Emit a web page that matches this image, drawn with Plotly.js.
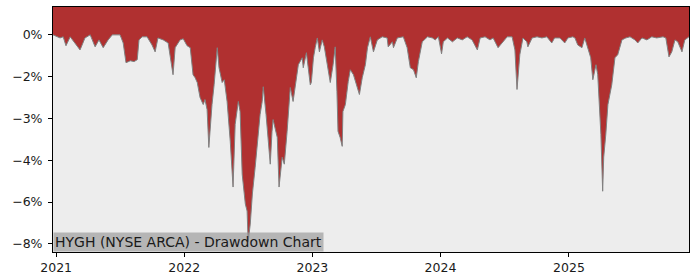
<!DOCTYPE html>
<html>
<head>
<meta charset="utf-8">
<script src="https://cdn.plot.ly/plotly-3.0.1.min.js"></script>
<style>
  html, body { margin: 0; padding: 0; background: #ffffff; }
  #chart { width: 700px; height: 280px; }
</style>
</head>
<body>
<div id="chart"></div>
<script>
// Drawdown of HYGH (percent)
const dates = [
  '2020-12-23','2021-01-04','2021-01-12','2021-01-21','2021-01-29','2021-02-10','2021-02-24','2021-03-10','2021-03-16','2021-03-24',
  '2021-04-08','2021-04-22','2021-05-03','2021-05-15','2021-05-29','2021-06-10','2021-07-02','2021-07-11','2021-07-19','2021-07-31',
  '2021-08-11','2021-08-20','2021-08-25','2021-09-03','2021-09-17','2021-10-01','2021-10-10','2021-10-18','2021-11-02','2021-11-16',
  '2021-11-30','2021-12-06','2021-12-20','2021-12-29',
  '2022-01-09','2022-01-18','2022-01-26','2022-02-01','2022-02-07','2022-02-15','2022-02-24','2022-03-01','2022-03-07','2022-03-12',
  '2022-03-21','2022-03-27','2022-04-05','2022-04-10','2022-04-19','2022-04-25','2022-05-03','2022-05-12','2022-05-20','2022-05-26',
  '2022-06-04','2022-06-09','2022-06-15','2022-06-24','2022-06-29','2022-07-02','2022-07-08','2022-07-14','2022-07-22','2022-07-31',
  '2022-08-05','2022-08-11','2022-08-14','2022-08-22','2022-08-28','2022-09-03','2022-09-08','2022-09-11','2022-09-23','2022-09-28',
  '2022-10-07','2022-10-13','2022-10-21','2022-10-30','2022-11-07','2022-11-16','2022-11-22','2022-12-03','2022-12-06','2022-12-15',
  '2022-12-20','2022-12-26','2022-12-29',
  '2023-01-04','2023-01-09','2023-01-15','2023-01-21','2023-01-29','2023-02-04','2023-02-12','2023-02-21','2023-03-01','2023-03-07',
  '2023-03-12','2023-03-15','2023-03-21','2023-03-27','2023-03-29','2023-04-05','2023-04-13','2023-04-19','2023-04-28','2023-05-09',
  '2023-05-15','2023-05-23','2023-06-01','2023-06-07','2023-06-15','2023-06-24','2023-07-05','2023-07-19','2023-08-02','2023-08-05',
  '2023-08-17','2023-08-20','2023-08-31','2023-09-17','2023-09-28','2023-10-07','2023-10-16','2023-10-24','2023-10-30','2023-11-10',
  '2023-11-25','2023-12-09','2023-12-17','2023-12-26',
  '2024-01-04','2024-01-09','2024-01-21','2024-02-04','2024-02-18','2024-03-03','2024-03-17','2024-03-31','2024-04-15','2024-04-23',
  '2024-05-07','2024-05-21','2024-05-30','2024-06-13','2024-06-24','2024-07-09','2024-07-23','2024-07-31','2024-08-06','2024-08-14',
  '2024-08-23','2024-09-03','2024-09-06','2024-09-18','2024-10-02','2024-10-16','2024-10-30','2024-11-13','2024-11-21','2024-12-06',
  '2024-12-20','2024-12-29',
  '2025-01-12','2025-01-18','2025-01-26','2025-02-07','2025-02-15','2025-02-24','2025-03-04','2025-03-10','2025-03-19','2025-03-24',
  '2025-03-30','2025-04-02','2025-04-07','2025-04-10','2025-04-16','2025-04-22','2025-05-03','2025-05-12','2025-05-20','2025-06-01',
  '2025-06-12','2025-06-24','2025-07-08','2025-07-16','2025-07-28','2025-08-11','2025-08-25','2025-09-08','2025-09-26','2025-10-04',
  '2025-10-13','2025-10-21','2025-10-30','2025-11-07','2025-11-19','2025-11-27','2025-12-09'
];
const drawdown = [
  0.00,-0.07,-0.11,-0.07,-0.39,-0.07,-0.29,-0.54,-0.36,-0.11,
  0.00,-0.43,-0.18,-0.46,-0.18,0.00,0.00,-0.29,-1.00,-0.93,
  -0.96,-0.89,-0.18,-0.07,-0.07,-0.36,-0.61,-0.11,-0.18,-0.29,
  -1.43,-0.46,-0.18,-0.14,
  -0.39,-0.46,-1.43,-1.54,-1.71,-2.25,-2.50,-2.32,-2.68,-4.04,
  -2.50,-1.79,-0.46,-1.18,-1.71,-1.61,-2.39,-3.82,-5.46,-3.21,
  -2.39,-2.75,-5.00,-6.07,-6.32,-7.42,-6.79,-5.71,-4.75,-3.57,
  -2.86,-2.39,-1.86,-2.86,-3.82,-4.64,-3.46,-3.04,-3.68,-5.46,
  -4.39,-4.64,-3.46,-1.89,-2.39,-1.68,-1.07,-0.82,-1.18,-0.64,
  -1.18,-1.79,-1.71,
  -0.82,-0.46,-0.11,-0.61,-0.18,-0.43,-1.07,-1.71,-1.07,-0.43,
  -2.04,-3.46,-3.68,-4.00,-2.75,-2.50,-1.68,-1.25,-1.43,-1.89,
  -2.14,-1.54,-1.07,-0.46,-0.07,-0.61,-0.18,-0.07,-0.11,-0.43,
  -0.25,-0.46,-0.11,-0.07,-0.46,-1.18,-1.25,-1.54,-0.96,-0.25,
  -0.07,-0.11,-0.18,-0.07,
  -0.68,-0.25,-0.11,-0.25,-0.11,-0.18,-0.07,-0.18,-0.54,-0.11,
  -0.07,-0.18,-0.11,-0.46,-0.29,-0.07,-0.07,-0.54,-1.96,-0.71,
  -0.11,-0.25,-0.43,-0.11,-0.07,-0.11,-0.07,-0.29,-0.11,-0.11,
  -0.29,-0.11,
  -0.07,-0.11,-0.36,-0.46,-0.11,-0.46,-0.82,-1.61,-1.07,-1.43,
  -2.68,-3.57,-5.61,-4.39,-3.57,-2.50,-1.79,-0.82,-0.71,-0.18,
  -0.11,-0.07,-0.18,-0.29,-0.11,-0.18,-0.07,-0.11,-0.07,-0.11,
  -0.79,-0.61,-0.18,-0.25,-0.61,-0.18,-0.07
];
const yTickVals = [0, -1.5, -3, -4.5, -6, -7.5];
const yTickText = ['0%', '\u22122%', '\u22123%', '\u22124%', '\u22126%', '\u22128%'];
const xTickVals = ['2021-01-01', '2022-01-01', '2023-01-01', '2024-01-01', '2025-01-01'];
const xTickText = ['2021', '2022', '2023', '2024', '2025'];
const chartLabel = 'HYGH (NYSE ARCA) - Drawdown Chart';

const yMin = Math.min(...drawdown);
const yRange = [yMin * 1.05, 1.0];

const topEdge = {
  x: dates, y: dates.map(() => yRange[1]),
  type: 'scatter', mode: 'lines',
  line: {width: 0, color: 'rgba(0,0,0,0)'},
  hoverinfo: 'skip', showlegend: false
};
const dd = {
  x: dates, y: drawdown,
  type: 'scatter', mode: 'lines',
  line: {color: '#808080', width: 1},
  fill: 'tonexty', fillcolor: '#b03030',
  showlegend: false
};

const axisFont = {family: 'DejaVu Sans, sans-serif', size: 12.5, color: '#1a1a1a'};

const layout = {
  width: 700, height: 280,
  margin: {l: 53, r: 11, t: 7, b: 28, pad: 0},
  paper_bgcolor: '#ffffff',
  plot_bgcolor: '#ededed',
  showlegend: false,
  font: axisFont,
  xaxis: {
    type: 'date',
    range: [dates[0], dates[dates.length - 1]],
    tickmode: 'array', tickvals: xTickVals, ticktext: xTickText,
    ticks: 'outside', ticklen: 4, tickwidth: 1, tickcolor: '#000',
    showline: true, linecolor: '#000', linewidth: 1, mirror: true,
    showgrid: false, zeroline: false, tickfont: axisFont
  },
  yaxis: {
    range: yRange,
    tickmode: 'array', tickvals: yTickVals, ticktext: yTickText,
    ticks: 'outside', ticklen: 4, tickwidth: 1, tickcolor: '#000',
    ticklabelstandoff: 3,
    showline: true, linecolor: '#000', linewidth: 1, mirror: true,
    showgrid: false, zeroline: false, tickfont: axisFont
  },
  annotations: [{
    text: chartLabel,
    xref: 'paper', yref: 'paper', x: 0, y: 0,
    xanchor: 'left', yanchor: 'bottom',
    showarrow: false,
    bgcolor: 'rgba(150,150,150,0.65)',
    borderpad: 1,
    font: {family: 'DejaVu Sans, sans-serif', size: 14, color: '#1a1a1a'}
  }]
};

Plotly.newPlot('chart', [topEdge, dd], layout, {displayModeBar: false, staticPlot: true});
</script>
</body>
</html>
